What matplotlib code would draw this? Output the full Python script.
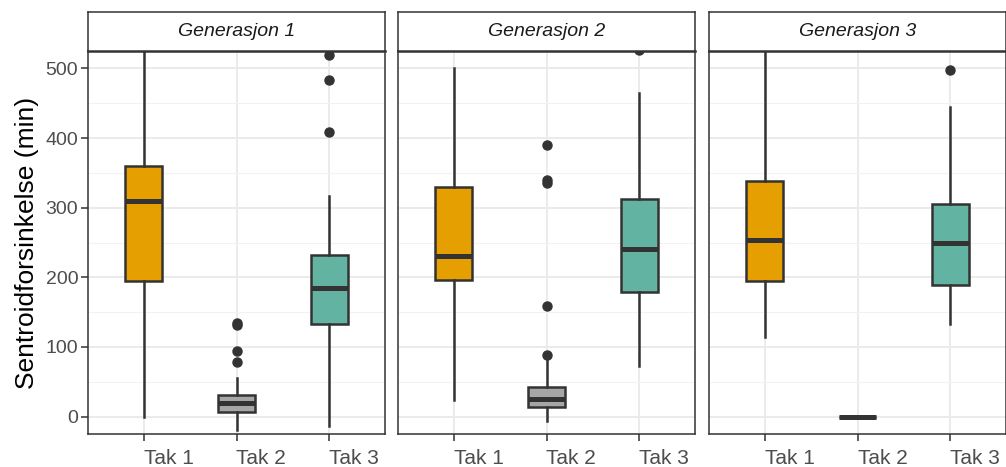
import matplotlib
matplotlib.use("Agg")
import matplotlib.pyplot as plt
from matplotlib.ticker import MultipleLocator

plt.rcParams['font.family'] = ['Liberation Sans', 'DejaVu Sans']

# data (minutes)
generasjoner = ["Generasjon 1", "Generasjon 2", "Generasjon 3"]
tak = ["Tak 1", "Tak 2", "Tak 3"]
farger = ["#E69F00", "#A6A6A6", "#62B3A1"]

whislo = [[0, -19, -13], [24, -7, 72], [115, 0, 133]]
q1 = [[194, 6, 133], [196, 14, 179], [194, 0, 189]]
med = [[310, 19, 185], [231, 25, 241], [253, 0, 250]]
q3 = [[360, 31, 232], [330, 43, 313], [339, 0, 306]]
whishi = [[560, 55, 317], [501, 81, 465], [560, 0, 445]]
fliers = [
    [[], [79, 94, 132, 135], [408, 483, 519]],
    [[], [88, 159, 336, 340, 390], [527]],
    [[], [], [497]],
]

W, H = 1006, 467
fig = plt.figure(figsize=(W / 100, H / 100), dpi=100)

edge = "#333333"
lefts = [88, 398, 709]
pw = 297
top, bottom, strip_top = 51, 434, 12

for g in range(3):
    ax = fig.add_axes([lefts[g] / W, (H - bottom) / H, pw / W, (bottom - top) / H])
    stats = []
    for t in range(3):
        stats.append(dict(whislo=whislo[g][t], q1=q1[g][t], med=med[g][t],
                          q3=q3[g][t], whishi=whishi[g][t], fliers=fliers[g][t]))
    bp = ax.bxp(stats, positions=[1, 2, 3], widths=0.4, patch_artist=True,
                showcaps=False,
                boxprops=dict(edgecolor=edge, linewidth=1.8),
                whiskerprops=dict(color=edge, linewidth=1.8),
                medianprops=dict(color=edge, linewidth=3.6, solid_capstyle='butt'),
                flierprops=dict(marker='o', markerfacecolor=edge, markeredgecolor=edge,
                                markersize=6.5))
    for patch, c in zip(bp['boxes'], farger):
        patch.set_facecolor(c)
        patch.set_zorder(3)
    for k in ('whiskers', 'medians', 'fliers'):
        for a in bp[k]:
            a.set_zorder(3)
    ax.set_xlim(0.4, 3.6)
    ax.set_ylim(-25, 525)
    ax.yaxis.set_major_locator(MultipleLocator(100))
    ax.yaxis.set_minor_locator(MultipleLocator(50))
    ax.set_xticks([1, 2, 3])
    ax.set_xticklabels(tak, fontsize=15, color="#4D4D4D", ha='left')
    ax.grid(True, which='major', color="#EBEBEB", linewidth=1.4, zorder=0)
    ax.grid(True, which='minor', axis='y', color="#F2F2F2", linewidth=0.8, zorder=0)
    ax.set_axisbelow(True)
    ax.tick_params(axis='both', which='major', length=5, width=1.1, color=edge)
    ax.tick_params(axis='x', pad=6)
    ax.tick_params(axis='y', which='minor', length=0)
    for s in ax.spines.values():
        s.set_color(edge)
        s.set_linewidth(1.1)
    if g == 0:
        ax.set_yticks([0, 100, 200, 300, 400, 500])
        ax.tick_params(axis='y', labelsize=14, labelcolor="#4D4D4D", pad=2)
        ax.set_ylabel("Sentroidforsinkelse (min)", fontsize=19, labelpad=5)
    else:
        ax.tick_params(axis='y', labelleft=False, length=0)

    sax = fig.add_axes([lefts[g] / W, (H - top) / H, pw / W, (top - strip_top) / H])
    sax.set_xticks([])
    sax.set_yticks([])
    for s in sax.spines.values():
        s.set_color(edge)
        s.set_linewidth(1.1)
    sax.spines['bottom'].set_linewidth(1.8)
    sax.text(0.5, 0.5, generasjoner[g], ha='center', va='center', style='italic',
             fontsize=14, color="#1A1A1A", transform=sax.transAxes)

fig.savefig("out.png", dpi=100)
